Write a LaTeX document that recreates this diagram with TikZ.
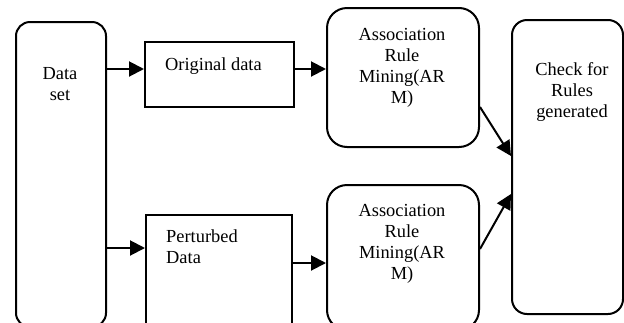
\documentclass[tikz,border=0pt]{standalone}
\usepackage{fontspec}
\setmainfont{Liberation Serif}
\usetikzlibrary{arrows.meta}
\begin{document}
\begin{tikzpicture}[x=1pt,y=-1pt,
 box/.style={draw, line width=2pt, inner sep=0pt, anchor=north west},
 rbox/.style={box, rounded corners=14pt},
 lbl/.style={inner sep=0pt, anchor=north, align=center, font=\fontsize{18.4}{21}\selectfont},
 arr/.style={line width=2pt, -{Triangle[length=15pt,width=15pt]}}]
\useasboundingbox (0,0) rectangle (624,322);
\clip (0,0) rectangle (624,322);
% boxes
\node[rbox, minimum width=90pt, minimum height=305pt] (ds) at (15,21) {};
\node[box, minimum width=149pt, minimum height=65pt] (org) at (144,41) {};
\node[box, minimum width=146pt, minimum height=130pt] (pert) at (145,214) {};
\node[rbox, rounded corners=20pt, minimum width=152pt, minimum height=139pt] (arm1) at (326,7) {};
\node[rbox, rounded corners=20pt, minimum width=152pt, minimum height=145pt] (arm2) at (326,184) {};
\node[rbox, rounded corners=15pt, minimum width=111pt, minimum height=294pt] (chk) at (511,19) {};
% texts
\node[lbl] (tds) at (60,67.5) {Data\\set};
\node[lbl, anchor=north west] (torg) at (165,57.5) {Original data};
\node[lbl, anchor=north west, align=left] (tpert) at (166,229.5) {Perturbed\\Data};
\node[lbl] (tarm1) at (402,28.5) {Association\\Rule\\Mining(AR\\M)};
\node[lbl] (tarm2) at (402,204.5) {Association\\Rule\\Mining(AR\\M)};
\node[lbl] (tchk) at (572,62.5) {Check for\\Rules\\generated};
% arrow levels
\coordinate (r1) at (0,69);
\coordinate (r2) at (0,248);
\coordinate (r3) at (0,263);
\draw[arr] (ds.east |- r1) -- (org.west |- r1);
\draw[arr] (org.east |- r1) -- (arm1.west |- r1);
\draw[arr] (ds.east |- r2) -- (pert.west |- r2);
\draw[arr] (pert.east |- r3) -- (arm2.west |- r3);
\draw[arr] ([yshift=-29.5pt]arm1.east) -- ([yshift=11pt]chk.west);
\draw[arr] ([yshift=8.5pt]arm2.east) -- ([yshift=-27pt]chk.west);
\end{tikzpicture}
\end{document}
